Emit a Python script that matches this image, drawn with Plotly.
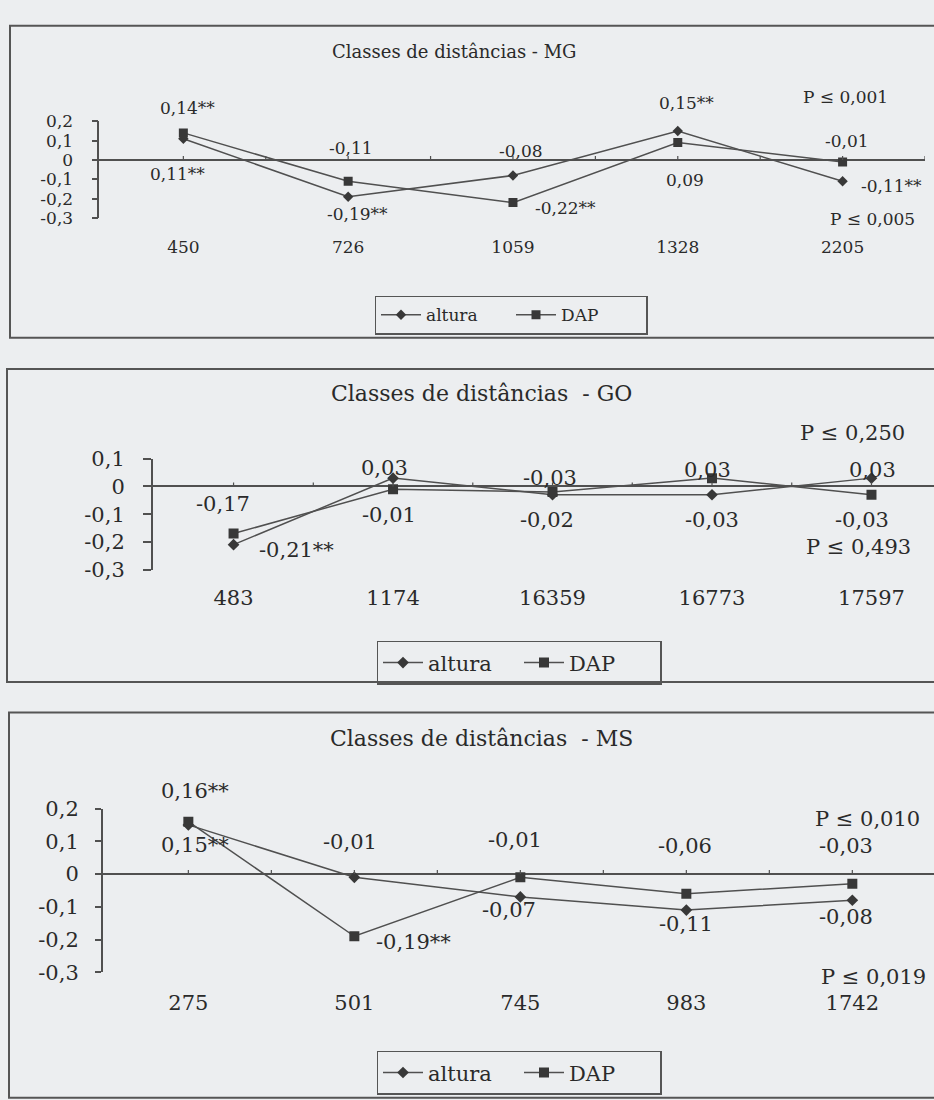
import plotly.graph_objects as go

# ---------------- data ----------------
cat_MG = ["450", "726", "1059", "1328", "2205"]
altura_MG = [0.11, -0.19, -0.08, 0.15, -0.11]
dap_MG = [0.14, -0.11, -0.22, 0.09, -0.01]
sig_altura_MG = [True, True, False, True, True]
sig_dap_MG = [True, False, True, False, False]
p_MG = ["0,001", "0,005"]

cat_GO = ["483", "1174", "16359", "16773", "17597"]
altura_GO = [-0.21, 0.03, -0.03, -0.03, 0.03]
dap_GO = [-0.17, -0.01, -0.02, 0.03, -0.03]
sig_altura_GO = [True, False, False, False, False]
sig_dap_GO = [False, False, False, False, False]
p_GO = ["0,250", "0,493"]

cat_MS = ["275", "501", "745", "983", "1742"]
altura_MS = [0.15, -0.01, -0.07, -0.11, -0.08]
dap_MS = [0.16, -0.19, -0.01, -0.06, -0.03]
sig_altura_MS = [True, False, False, False, False]
sig_dap_MS = [True, True, False, False, False]
p_MS = ["0,010", "0,019"]

titles = ["Classes de distâncias - MG", "Classes de distâncias  - GO", "Classes de distâncias  - MS"]

# ---------------- styling / layout ----------------
W, H = 934, 1100
FONT = "DejaVu Serif"
INK = "#2a2a2a"
LINE = "#505050"
BG = "#eceef0"


def px(x):
    return x / W


def py(y):
    return 1 - y / H


def fmt(v, s):
    return f"{v:.2f}".replace(".", ",") + ("**" if s else "")


def yfmt(v):
    return "0" if abs(v) < 1e-9 else f"{v:.1f}".replace(".", ",")


panels = [
    dict(cats=cat_MG, alt=altura_MG, dap=dap_MG, sa=sig_altura_MG, sd=sig_dap_MG, p=p_MG,
         title=titles[0], fs=17, tfs=18, xdom=(99.3, 925), ydom=(210.7, 111.7), xr=(-0.51, 4.5),
         yr=(-0.3, 0.2), ticklen=6, ystand=15, xstand=17,
         title_pos=(454, 40), p_top=(845, 87), p_bot=(872, 212),
         leg=(511, 290), legw=80, box=(10, 14, 940, 333),
         off_alt=[(-6, -35), (9, -17), (8, 24), (9, 28), (49, -5)],
         off_dap=[(4, 25), (3, 33), (53, -5), (7, -37), (4, 21)]),
    dict(cats=cat_GO, alt=altura_GO, dap=dap_GO, sa=sig_altura_GO, sd=sig_dap_GO, p=p_GO,
         title=titles[1], fs=21, tfs=22, xdom=(152.7, 934), ydom=(570, 456.7), xr=(-0.507, 4.392),
         yr=(-0.3, 0.1), ticklen=8, ystand=14, xstand=13,
         title_pos=(481, 390), p_top=(852, 430), p_bot=(858, 547),
         leg=(519, 643), legw=86, box=(7, 365, 940, 685),
         off_alt=[(63, -5), (-9, 10), (-3, 17), (0, -25), (1, 8)],
         off_dap=[(-11, 30), (-4, -26), (-6, -28), (-5, 8), (-9, -25)]),
    dict(cats=cat_MS, alt=altura_MS, dap=dap_MS, sa=sig_altura_MS, sd=sig_dap_MS, p=p_MS,
         title=titles[2], fs=21, tfs=22, xdom=(102.7, 934), ydom=(981.7, 814.3), xr=(-0.516, 4.492),
         yr=(-0.3, 0.2), ticklen=6, ystand=12, xstand=16,
         title_pos=(481, 743), p_top=(867, 825), p_bot=(873, 987),
         leg=(519, 1062), legw=86, box=(9, 716, 940, 1110),
         off_alt=[(7, -20), (-4, 35), (-11, -13), (0, -14), (-6, -17)],
         off_dap=[(7, 31), (59, -6), (-5, 37), (-1, 48), (-6, 38)]),
]

fig = go.Figure()
annotations = []
shapes = []
layout = dict(
    width=W, height=H, margin=dict(l=0, r=0, t=0, b=0),
    paper_bgcolor=BG, plot_bgcolor="rgba(0,0,0,0)",
    font=dict(family=FONT, color=INK),
    showlegend=True,
)

for i, p in enumerate(panels):
    n = i + 1
    xa = "x" if n == 1 else f"x{n}"
    ya = "y" if n == 1 else f"y{n}"
    xkey = "xaxis" if n == 1 else f"xaxis{n}"
    ykey = "yaxis" if n == 1 else f"yaxis{n}"
    lkey = "legend" if n == 1 else f"legend{n}"
    idx = list(range(len(p["cats"])))
    fs = p["fs"]
    tfont = dict(size=fs, color=INK, family=FONT)

    fig.add_trace(go.Scatter(
        x=idx, y=p["alt"], name="altura", mode="lines+markers",
        line=dict(color=LINE, width=1.5),
        marker=dict(symbol="diamond", size=9 if fs > 18 else 8, color="#383838"),
        xaxis=xa, yaxis=ya, legend=lkey, hoverinfo="skip"))
    fig.add_trace(go.Scatter(
        x=idx, y=p["dap"], name="DAP", mode="lines+markers",
        line=dict(color=LINE, width=1.5),
        marker=dict(symbol="square", size=10 if fs > 18 else 9, color="#383838"),
        xaxis=xa, yaxis=ya, legend=lkey, hoverinfo="skip"))

    yt = [round(p["yr"][0] + 0.1 * k, 1) for k in range(int(round((p["yr"][1] - p["yr"][0]) / 0.1)) + 1)]
    layout[xkey] = dict(
        domain=[px(p["xdom"][0]), px(p["xdom"][1])], range=list(p["xr"]),
        anchor=ya, tickvals=idx, ticktext=p["cats"], showline=False, showgrid=False,
        zeroline=False, ticks="", tickfont=tfont,
        ticklabelstandoff=p["xstand"], fixedrange=True)
    layout[ykey] = dict(
        domain=[py(p["ydom"][0]), py(p["ydom"][1])], range=list(p["yr"]),
        anchor=xa, tickvals=yt, ticktext=[yfmt(v) for v in yt], showgrid=False,
        showline=True, linecolor=LINE, linewidth=1.5, ticks="outside",
        ticklen=p["ticklen"], tickcolor=LINE, tickwidth=1.5,
        zeroline=True, zerolinecolor=LINE, zerolinewidth=1.5,
        tickfont=tfont, ticklabelstandoff=p["ystand"], fixedrange=True)

    # small tick marks on the zero line (category axis style)
    for k in range(2 * len(idx)):
        xv = k * 0.5
        shapes.append(dict(type="line", xref=xa, yref=ya, x0=xv, x1=xv,
                           ysizemode="pixel", yanchor=0, y0=0, y1=4,
                           line=dict(color=LINE, width=1.2)))

    # data labels
    for j in idx:
        for val, sig, off in ((p["alt"][j], p["sa"][j], p["off_alt"][j]),
                              (p["dap"][j], p["sd"][j], p["off_dap"][j])):
            annotations.append(dict(
                x=j, y=val, xref=xa, yref=ya, text=fmt(val, sig), showarrow=False,
                xanchor="center", yanchor="middle",
                xshift=off[0], yshift=off[1], font=tfont))

    # title and P annotations
    for pos, txt, size in ((p["title_pos"], p["title"], p["tfs"]),
                           (p["p_top"], "P ≤ " + p["p"][0], fs),
                           (p["p_bot"], "P ≤ " + p["p"][1], fs)):
        annotations.append(dict(x=px(pos[0]), y=py(pos[1]), xref="paper", yref="paper",
                                xanchor="center", yanchor="middle",
                                text=txt, showarrow=False,
                                font=dict(size=size, color=INK, family=FONT)))

    # panel border
    bx = p["box"]
    shapes.append(dict(type="rect", xref="paper", yref="paper",
                       x0=px(bx[0]), x1=px(bx[2]), y0=py(bx[3]), y1=py(bx[1]),
                       line=dict(color="#555555", width=2), fillcolor="rgba(0,0,0,0)", layer="below"))

    layout[lkey] = dict(
        orientation="h", x=px(p["leg"][0]), y=py(p["leg"][1]), xanchor="center", yanchor="top",
        bgcolor="rgba(0,0,0,0)", bordercolor="#555555", borderwidth=1.5,
        font=tfont, itemwidth=40, entrywidth=p["legw"], entrywidthmode="pixels",
        tracegroupgap=0)

layout["annotations"] = annotations
layout["shapes"] = shapes
fig.update_layout(**layout)
fig.write_html("out.html", config={"displayModeBar": False},
               post_script="document.body.style.margin='0';document.body.style.overflow='hidden';")
